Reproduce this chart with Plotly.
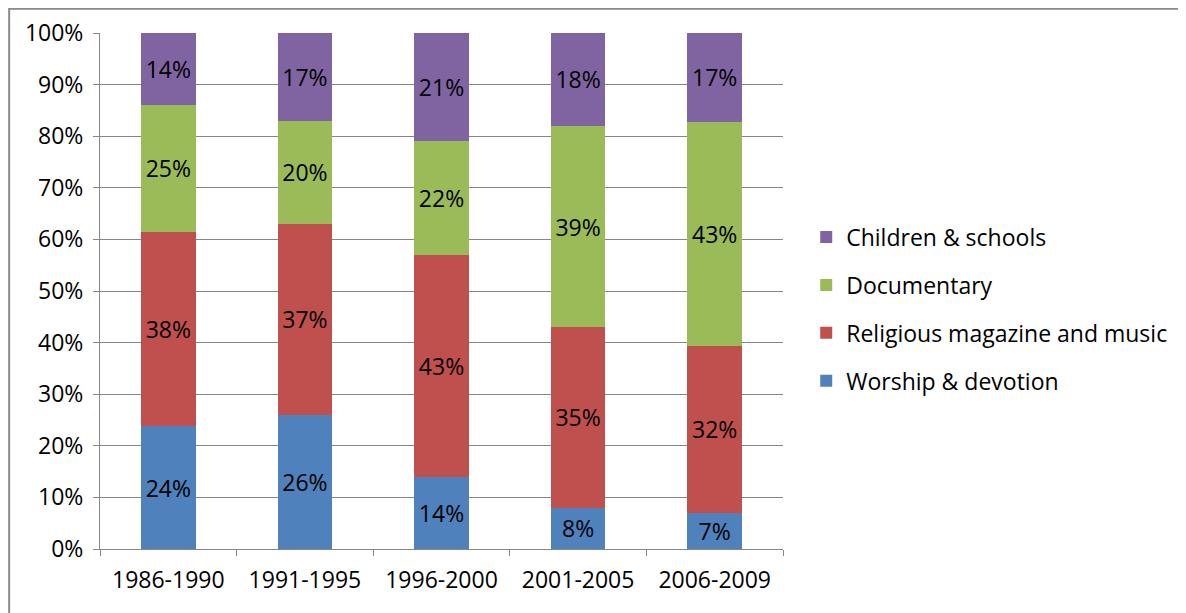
import plotly.graph_objects as go

periods = ["1986-1990", "1991-1995", "1996-2000", "2001-2005", "2006-2009"]
worship = [24, 26, 14, 8, 7]
religious = [38, 37, 43, 35, 32]
documentary = [25, 20, 22, 39, 43]
children = [14, 17, 21, 18, 17]

series = [
    ("Worship & devotion", worship, "#4F81BD", 4),
    ("Religious magazine and music", religious, "#C0504D", 3),
    ("Documentary", documentary, "#9BBB59", 2),
    ("Children & schools", children, "#8064A2", 1),
]

FONT = "Open Sans"
FS = 23
fig = go.Figure()
for name, vals, col, rank in series:
    fig.add_trace(go.Bar(
        x=periods, y=vals, name=name, legendgroup=name, legendrank=rank,
        marker=dict(color=col, line=dict(width=0)),
        text=[f"{v}%" for v in vals],
        textposition="inside", insidetextanchor="middle", textangle=0,
        constraintext="none",
        textfont=dict(family=FONT, size=FS, color="black"),
        hoverinfo="skip",
    ))

fig.update_layout(
    barmode="stack", barnorm="percent", bargap=0.6,
    width=1178, height=605,
    margin=dict(l=92, r=403, t=25, b=64, autoexpand=False),
    paper_bgcolor="white", plot_bgcolor="white",
    font=dict(family=FONT, size=FS, color="black"),
    legend=dict(x=1.034, xanchor="left", y=0.465, yanchor="middle",
                traceorder="grouped", tracegroupgap=15,
                font=dict(family=FONT, size=FS, color="black"),
                itemwidth=30),
    showlegend=True,
    shapes=[dict(type="rect", xref="paper", yref="paper",
                 x0=-0.133, x1=2, y0=-0.3, y1=1.047,
                 line=dict(color="#8a8a8a", width=2), layer="below")],
)
fig.update_yaxes(range=[0, 100], dtick=10, ticksuffix="%",
                 showgrid=True, gridcolor="#868686", gridwidth=1,
                 showline=True, linecolor="#868686", linewidth=1,
                 ticks="outside", ticklen=6, tickcolor="#868686",
                 ticklabelstandoff=5, automargin=False,
                 zeroline=False, tickfont=dict(size=FS))
fig.update_xaxes(showline=True, linecolor="#868686", linewidth=1,
                 ticks="outside", ticklen=6, tickcolor="#868686",
                 tickson="boundaries", showgrid=False,
                 ticklabelstandoff=10, automargin=False,
                 tickfont=dict(size=FS))

fig.write_html("out.html")
